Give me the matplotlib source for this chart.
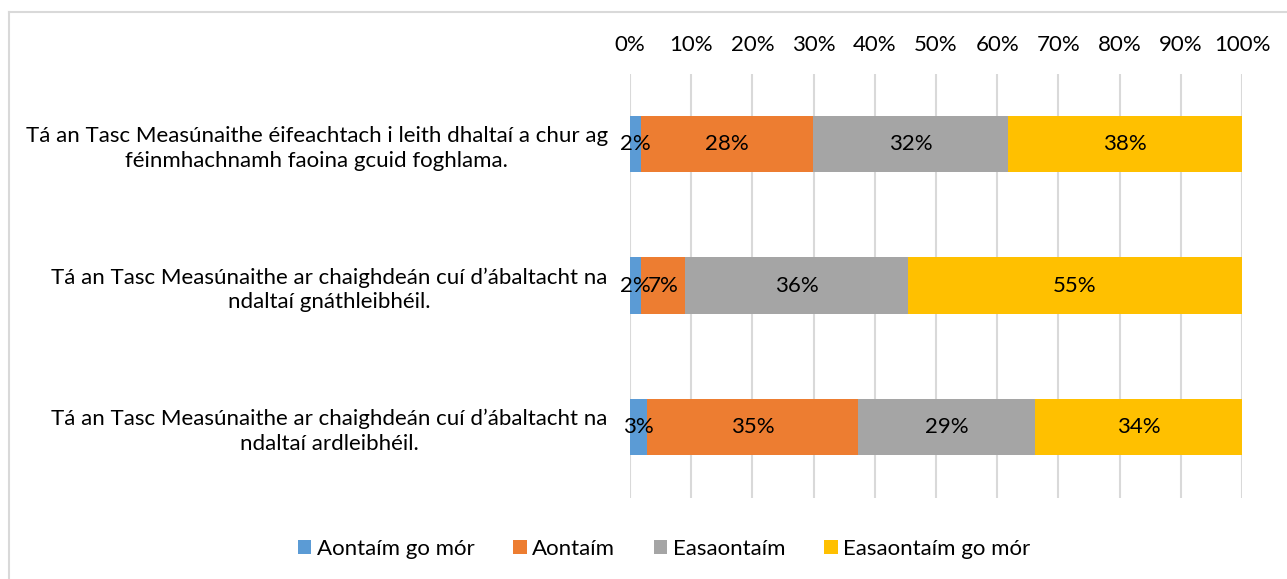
import matplotlib
matplotlib.use('Agg')
from matplotlib import pyplot as plt
from matplotlib.lines import Line2D
import numpy as np

plt.rcParams['font.family'] = ['Lato', 'DejaVu Sans']

categories = [
    'Tá an Tasc Measúnaithe éifeachtach i leith dhaltaí a chur ag\nféinmhachnamh faoina gcuid foghlama.',
    'Tá an Tasc Measúnaithe ar chaighdeán cuí d’ábaltacht na\nndaltaí gnáthleibhéil.',
    'Tá an Tasc Measúnaithe ar chaighdeán cuí d’ábaltacht na\nndaltaí ardleibhéil.',
]
series_names = ['Aontaím go mór', 'Aontaím', 'Easaontaím', 'Easaontaím go mór']
# shares in percent (labels show rounded values)
aontaim_go_mor = [1.8, 1.8, 2.7]
aontaim = [28.1, 7.2, 34.6]
easaontaim = [31.9, 36.4, 28.9]
easaontaim_go_mor = [38.2, 54.6, 33.8]
shown_labels = [
    ['2%', '2%', '3%'],
    ['28%', '7%', '35%'],
    ['32%', '36%', '29%'],
    ['38%', '55%', '34%'],
]
colors = ['#5B9BD5', '#ED7D31', '#A5A5A5', '#FFC000']
xticks = list(range(0, 101, 10))
fs = 16

fig = plt.figure(figsize=(12.87, 5.79), dpi=100)
ax = fig.add_axes([630 / 1287, 1 - 497.5 / 579, 612 / 1287, 424 / 579])

y = np.arange(len(categories))
left = np.zeros(len(categories))
for name, vals, col, labs in zip(series_names,
                                 [aontaim_go_mor, aontaim, easaontaim, easaontaim_go_mor],
                                 colors, shown_labels):
    vals = np.array(vals)
    ax.barh(y, vals, left=left, height=0.4, color=col, label=name, zorder=3)
    for yi, l, v, t in zip(y, left, vals, labs):
        ax.text(l + v / 2, yi, t, ha='center', va='center', fontsize=fs, color='#000000', zorder=4)
    left = left + vals

ax.set_xlim(0, 100)
ax.set_ylim(len(categories) - 0.5, -0.5)
ax.set_xticks(xticks)
ax.set_xticklabels(['{}%'.format(t) for t in xticks])
ax.xaxis.tick_top()
ax.tick_params(axis='x', length=0, pad=13, labelsize=fs)
ax.set_yticks(y)
ax.set_yticklabels(categories, multialignment='center', fontsize=fs, linespacing=1.3)
ax.tick_params(axis='y', length=0, pad=16)
ax.grid(axis='x', color='#D9D9D9', linewidth=1.5, zorder=0)
for s in ax.spines.values():
    s.set_visible(False)

fig.legend(loc='center', bbox_to_anchor=(664 / 1287, 1 - 549 / 579), ncol=4, frameon=False,
           fontsize=fs, handlelength=0.6, handleheight=0.6, handletextpad=0.25, columnspacing=1.75)

# outer chart border (top and left visible)
fig.add_artist(Line2D([9 / 1287, 9 / 1287], [0, 1 - 12 / 579], transform=fig.transFigure,
                      color='#D9D9D9', linewidth=1.5))
fig.add_artist(Line2D([9 / 1287, 1], [1 - 12 / 579, 1 - 12 / 579], transform=fig.transFigure,
                      color='#D9D9D9', linewidth=1.5))

fig.savefig('out.png', dpi=100)
